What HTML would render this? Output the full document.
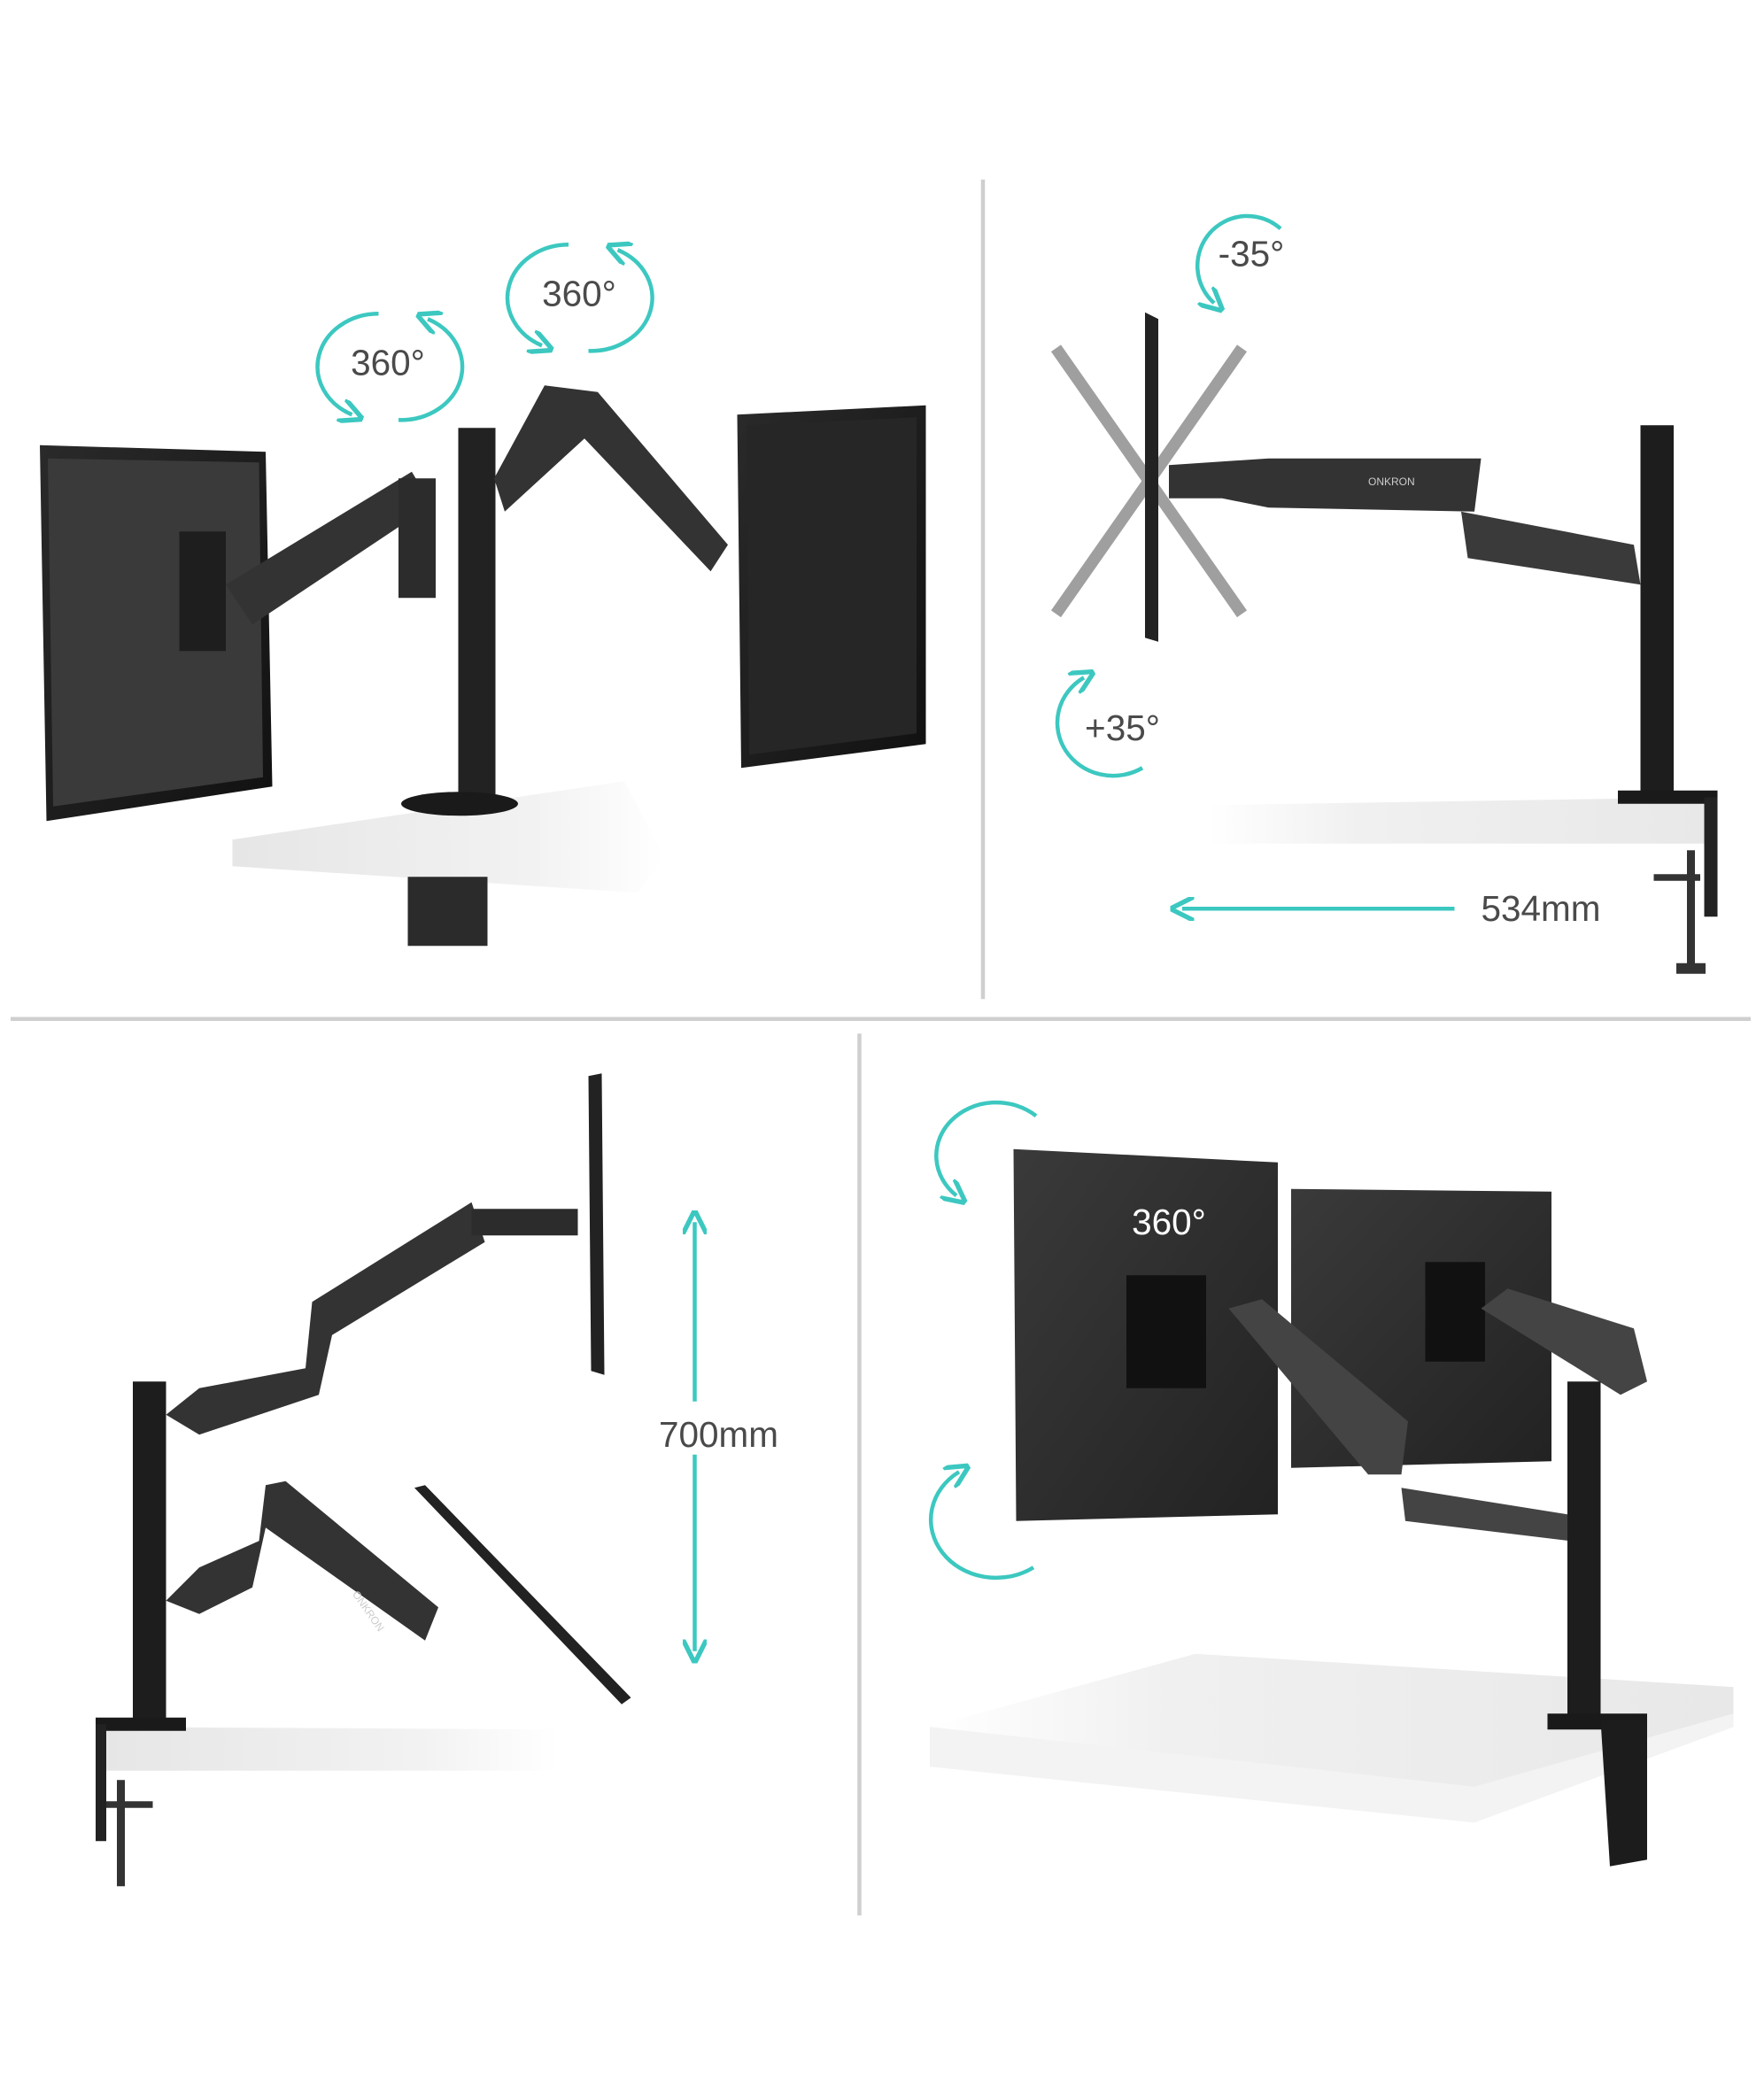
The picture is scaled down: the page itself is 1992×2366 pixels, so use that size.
<!DOCTYPE html>
<html><head><meta charset="utf-8"><style>
html,body{margin:0;padding:0;background:#fff;}
svg{display:block;}
text{font-family:"Liberation Sans",sans-serif;fill:#4a4a4a;}
</style></head><body>
<svg width="1992" height="2366" viewBox="0 0 1328 1577" xmlns="http://www.w3.org/2000/svg">
<defs>
<linearGradient id="desk" x1="0" x2="1" y1="0" y2="0"><stop offset="0" stop-color="#e6e6e6"/><stop offset="0.7" stop-color="#f2f2f2"/><stop offset="1" stop-color="#fff"/></linearGradient>
<linearGradient id="desk2" x1="0" x2="1"><stop offset="0" stop-color="#fff"/><stop offset="0.3" stop-color="#f0f0f0"/><stop offset="1" stop-color="#e8e8e8"/></linearGradient>
<linearGradient id="mon" x1="0" x2="1" y1="0" y2="1"><stop offset="0" stop-color="#2a2a2a"/><stop offset="1" stop-color="#111"/></linearGradient>
<linearGradient id="mon2" x1="0" x2="1" y1="0" y2="1"><stop offset="0" stop-color="#3a3a3a"/><stop offset="1" stop-color="#222"/></linearGradient>
<marker id="ah" viewBox="0 0 10 10" refX="5" refY="5" markerWidth="6" markerHeight="6" orient="auto-start-reverse"><path d="M0,0 L10,5 L0,10" fill="none" stroke="#3cc8c0" stroke-width="2"/></marker>
</defs>
<rect width="1328" height="1577" fill="#fff"/>
<g stroke="#cfcfcf" stroke-width="3">
<line x1="740" y1="135" x2="740" y2="752"/>
<line x1="8" y1="767" x2="1318" y2="767"/>
<line x1="647" y1="778" x2="647" y2="1442"/>
</g>

<!-- Q1 -->
<polygon points="175,632 470,588 500,645 480,672 175,652" fill="url(#desk)"/>
<rect x="307" y="660" width="60" height="52" fill="#2b2b2b"/>
<polygon points="30,335 200,340 205,592 35,618" fill="url(#mon)"/>
<polygon points="36,345 195,348 198,585 40,607" fill="#3a3a3a"/>
<rect x="135" y="400" width="35" height="90" fill="#1e1e1e"/>
<polygon points="170,440 310,355 325,380 190,470" fill="#333"/>
<rect x="300" y="360" width="28" height="90" fill="#2c2c2c"/>
<rect x="345" y="322" width="28" height="278" fill="#222"/>
<ellipse cx="346" cy="605" rx="44" ry="9" fill="#1a1a1a"/>
<polygon points="372,360 410,290 450,295 548,410 535,430 440,330 380,385" fill="#333"/>
<polygon points="555,312 697,305 697,560 558,578" fill="url(#mon)"/>
<polygon points="562,320 690,314 690,552 564,568" fill="#262626"/>
<g fill="none" stroke="#3cc8c0" stroke-width="3">
<path d="M285,236 A46,40 0 0 0 265,312" marker-end="url(#ah)"/>
<path d="M300,316 A46,40 0 0 0 322,240" marker-end="url(#ah)"/>
<path d="M428,184 A46,40 0 0 0 408,260" marker-end="url(#ah)"/>
<path d="M443,264 A46,40 0 0 0 465,188" marker-end="url(#ah)"/>
</g>
<text x="292" y="282" font-size="27" text-anchor="middle">360°</text>
<text x="436" y="230" font-size="27" text-anchor="middle">360°</text>

<!-- Q2 -->
<polygon points="910,606 1290,600 1290,635 910,635" fill="url(#desk2)"/>
<rect x="1235" y="320" width="25" height="282" fill="#1d1d1d"/>
<rect x="1218" y="595" width="75" height="10" fill="#1a1a1a"/>
<rect x="1283" y="600" width="10" height="90" fill="#222"/>
<rect x="1270" y="640" width="6" height="90" fill="#333"/>
<rect x="1245" y="658" width="35" height="5" fill="#333"/>
<rect x="1262" y="725" width="22" height="8" fill="#333"/>
<g stroke="#888" stroke-width="9" opacity="0.8"><line x1="795" y1="262" x2="935" y2="462"/><line x1="935" y1="262" x2="795" y2="462"/></g>
<polygon points="862,235 872,240 872,483 862,480" fill="#222"/>
<polygon points="880,350 955,345 1115,345 1110,385 955,382 920,375 880,375" fill="#333"/>
<polygon points="1100,385 1230,410 1235,440 1105,420" fill="#3a3a3a"/>
<text x="1030" y="365" font-size="8" style="fill:#ccc">ONKRON</text>
<g fill="none" stroke="#3cc8c0" stroke-width="3">
<path d="M964,172 A36,36 0 0 0 914,228" marker-end="url(#ah)"/>
<path d="M860,578 A40,38 0 0 1 816,510" marker-end="url(#ah)"/>
<line x1="1095" y1="684" x2="890" y2="684" marker-end="url(#ah)"/>
</g>
<text x="942" y="200" font-size="27" text-anchor="middle">-35°</text>
<text x="845" y="557" font-size="27" text-anchor="middle">+35°</text>
<text x="1160" y="693" font-size="27" text-anchor="middle">534mm</text>

<!-- Q3 -->
<polygon points="75,1300 420,1302 420,1333 75,1333" fill="url(#desk)"/>
<rect x="100" y="1040" width="25" height="260" fill="#1d1d1d"/>
<rect x="72" y="1293" width="68" height="10" fill="#1a1a1a"/>
<rect x="72" y="1298" width="8" height="88" fill="#222"/>
<rect x="88" y="1340" width="6" height="80" fill="#333"/>
<rect x="80" y="1356" width="35" height="5" fill="#333"/>
<polygon points="125,1065 150,1045 230,1030 235,980 355,905 365,935 250,1005 240,1050 150,1080" fill="#333"/>
<rect x="355" y="910" width="80" height="20" fill="#2c2c2c"/>
<polygon points="443,810 453,808 455,1035 445,1032" fill="#222"/>
<polygon points="125,1205 150,1180 195,1160 200,1118 215,1115 330,1210 320,1235 200,1150 190,1195 150,1215" fill="#333"/>
<polygon points="312,1120 320,1118 475,1278 468,1283" fill="#222"/>
<text x="265" y="1200" font-size="8" transform="rotate(55 265 1200)" style="fill:#ccc">ONKRON</text>
<line x1="523" y1="1243" x2="523" y2="920" stroke="#3cc8c0" stroke-width="3" marker-end="url(#ah)" marker-start="url(#ah)"/>
<rect x="480" y="1055" width="90" height="40" fill="#fff"/>
<text x="541" y="1089" font-size="27" text-anchor="middle">700mm</text>

<!-- Q4 -->
<polygon points="700,1300 900,1245 1305,1270 1305,1300 1110,1372 700,1330" fill="url(#desk2)"/>
<polygon points="700,1300 1110,1345 1305,1290 1305,1300 1110,1372 700,1330" fill="#f3f3f3"/>
<polygon points="972,895 1168,897 1168,1100 972,1105" fill="url(#mon2)"/>
<polygon points="763,865 962,875 962,1140 765,1145" fill="url(#mon2)"/>
<rect x="848" y="960" width="60" height="85" fill="#111"/>
<rect x="1073" y="950" width="45" height="75" fill="#111"/>
<polygon points="925,985 950,978 1060,1070 1055,1110 1030,1110" fill="#444"/>
<polygon points="1115,985 1135,970 1230,1000 1240,1040 1220,1050" fill="#444"/>
<polygon points="1055,1120 1180,1140 1182,1160 1058,1145" fill="#444"/>
<rect x="1180" y="1040" width="25" height="258" fill="#1d1d1d"/>
<rect x="1165" y="1290" width="75" height="12" fill="#1a1a1a"/>
<polygon points="1205,1295 1240,1295 1240,1400 1212,1405" fill="#1c1c1c"/>
<text x="880" y="929" font-size="27" text-anchor="middle" style="fill:#fff">360°</text>
<g fill="none" stroke="#3cc8c0" stroke-width="3">
<path d="M780,840 A45,40 0 0 0 720,900" marker-end="url(#ah)"/>
<path d="M778,1180 A45,40 0 0 1 722,1108" marker-end="url(#ah)"/>
</g>
</svg>
</body></html>
